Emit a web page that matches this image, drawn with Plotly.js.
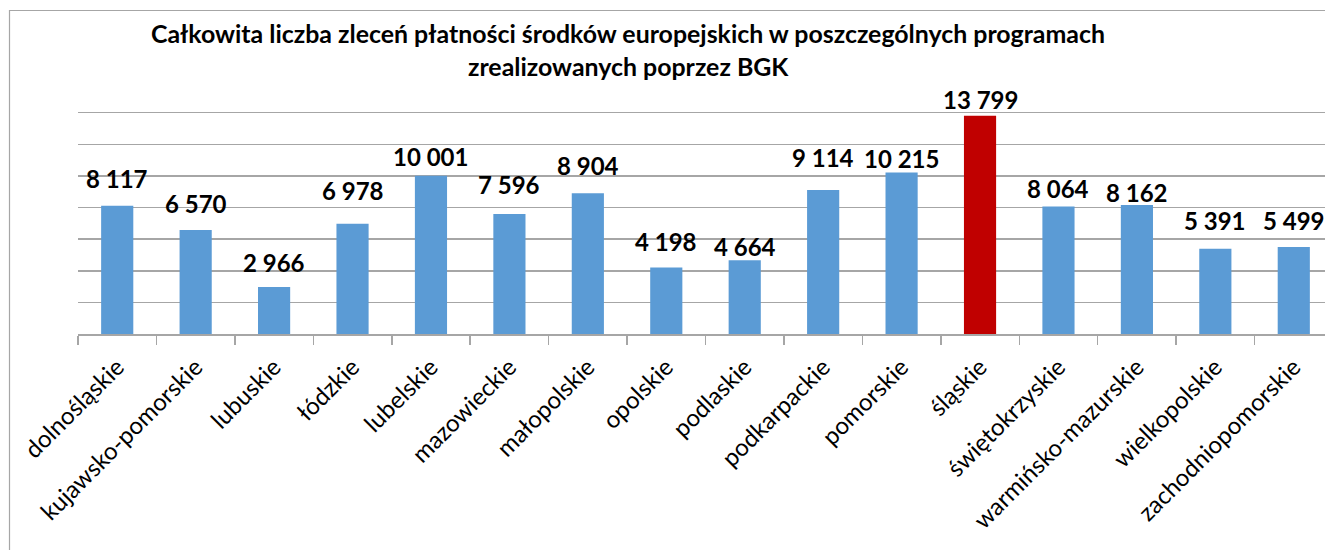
<!DOCTYPE html>
<html>
<head>
<meta charset="utf-8">
<script src="https://cdn.plot.ly/plotly-3.0.1.min.js"></script>
<style>
html,body{margin:0;padding:0;overflow:hidden;background:#fff;}
#chart{width:1345px;height:550px;}
</style>
</head>
<body>
<div id="chart"></div>
<script>
const categories = ["dolnośląskie","kujawsko-pomorskie","lubuskie","łódzkie","lubelskie","mazowieckie","małopolskie","opolskie","podlaskie","podkarpackie","pomorskie","śląskie","świętokrzyskie","warmińsko-mazurskie","wielkopolskie","zachodniopomorskie"];
const values = [8117,6570,2966,6978,10001,7596,8904,4198,4664,9114,10215,13799,8064,8162,5391,5499];
const valueLabels = ["8 117","6 570","2 966","6 978","10 001","7 596","8 904","4 198","4 664","9 114","10 215","13 799","8 064","8 162","5 391","5 499"];
const titleLines = ["Całkowita liczba zleceń płatności środków europejskich w poszczególnych programach","zrealizowanych poprzez BGK"];
const highlight = "śląskie";
// style: label offset above bar top (px)
const labelOffsets = [27,27,25,33,19,29,28,26,14,32,14,16,18,12,28,27];

const colors = categories.map(c => c === highlight ? "#C00000" : "#5B9BD5");

const W = 1345, H = 550;
const m = {l:78, r:12, t:81, b:216};
const plotW = W - m.l - m.r, plotH = H - m.t - m.b;
const px = x => (x - m.l) / plotW;
const py = y => (H - m.b - y) / plotH;
const FONT = "Lato, 'Open Sans', sans-serif";

const trace = {
  type: "bar",
  x: categories,
  y: values,
  marker: {color: colors},
  hoverinfo: "x+y"
};

const annotations = categories.map((c, i) => ({
  x: c, y: values[i], xref: "x", yref: "y",
  text: valueLabels[i], showarrow: false,
  yanchor: "middle", yshift: labelOffsets[i],
  font: {family: FONT, size: 24, color: "#000", weight: "bold"}
}));
const titleY = [33, 66];
titleLines.forEach((t, i) => annotations.push({
  x: px(628), y: py(titleY[i]), xref: "paper", yref: "paper",
  xanchor: "center", yanchor: "middle", showarrow: false,
  text: "<b>" + t + "</b>",
  font: {family: FONT, size: 24.9, color: "#000"}
}));

const layout = {
  width: W, height: H,
  margin: m,
  paper_bgcolor: "#fff", plot_bgcolor: "#fff",
  bargap: 0.59,
  showlegend: false,
  xaxis: {
    type: "category",
    tickangle: -45,
    tickfont: {family: FONT, size: 24, color: "#000"},
    ticklabelstandoff: 8,
    showline: true, linecolor: "#A6A6A6", linewidth: 1.5,
    ticks: "outside", tickson: "boundaries", ticklen: 9, tickcolor: "#A6A6A6", tickwidth: 1.5,
    showgrid: false,
    automargin: false
  },
  yaxis: {
    range: [0, 16000], dtick: 2000,
    showticklabels: false,
    showgrid: true, gridcolor: "#A6A6A6", gridwidth: 1.5,
    zeroline: false, showline: false, ticks: "",
    fixedrange: true
  },
  annotations: annotations,
  shapes: [{
    type: "rect", xref: "paper", yref: "paper",
    x0: px(9.5), x1: px(W + 50), y0: py(H + 50), y1: py(10.5),
    line: {color: "#A6A6A6", width: 1.2}, fillcolor: "rgba(0,0,0,0)", layer: "below"
  }]
};

Plotly.newPlot("chart", [trace], layout, {displayModeBar: false, staticPlot: true});
</script>
</body>
</html>
